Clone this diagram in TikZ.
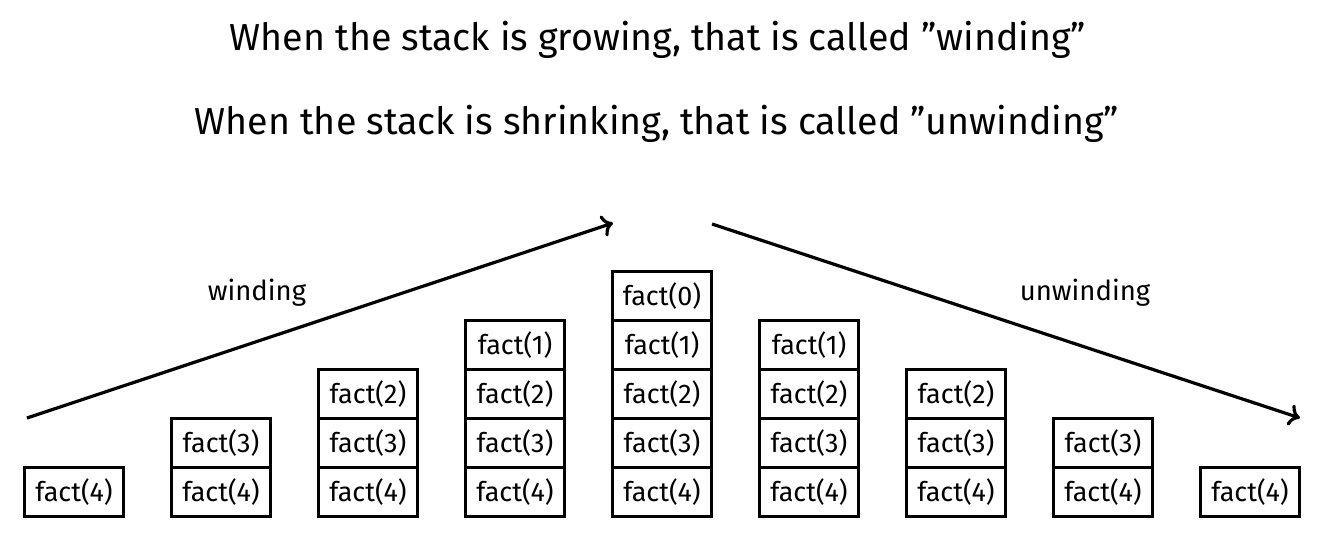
\documentclass[tikz,border=0pt]{standalone}
\usepackage{fontspec}
\setmainfont{Fira Sans}
\usetikzlibrary{arrows.meta,positioning}

\tikzset{
  factbox/.style = {draw, line width=3.3pt, minimum width=99pt, minimum height=49pt,
    inner sep=0pt, font=\fontsize{27}{27}\selectfont},
  phase/.style = {font=\fontsize{27.5}{27.5}\selectfont},
  headline/.style = {font=\fontsize{37.6}{37.6}\selectfont},
  flow/.style = {line width=3.2pt, -{To[length=11pt,width=22pt]}},
}

\begin{document}
\begin{tikzpicture}[x=1pt, y=-1pt]
    \useasboundingbox (0,0) rectangle (1337,540);

    \node[headline] (grow) at (658,40) {When the stack is growing, that is called ”winding”};
    \node[headline] (shrink) at (657,124) {When the stack is shrinking, that is called ”unwinding”};

    % the call stacks, fact(4) at the bottom
    \foreach \col/\depth in {0/1,1/2,2/3,3/4,4/5,5/4,6/3,7/2,8/1} {
      \foreach \k in {1,...,\depth} {
        \pgfmathtruncatemacro{\arg}{5-\k}
        \node[factbox] (s\col-\k) at (74+147*\col, 492-49*\k+49) {fact(\arg)};
      }
    }

    \coordinate (windstart) at (27,418);
    \coordinate (windend) at (613,223);
    \coordinate (unwindstart) at (712,224);
    \coordinate (unwindend) at (1300,418);

    \node[phase] (wind) at (257,293) {winding};
    \node[phase] (unwind) at (1085,293) {unwinding};

    \draw[flow] (windstart) -- (windend);
    \draw[flow] (unwindstart) -- (unwindend);
\end{tikzpicture}
\end{document}
